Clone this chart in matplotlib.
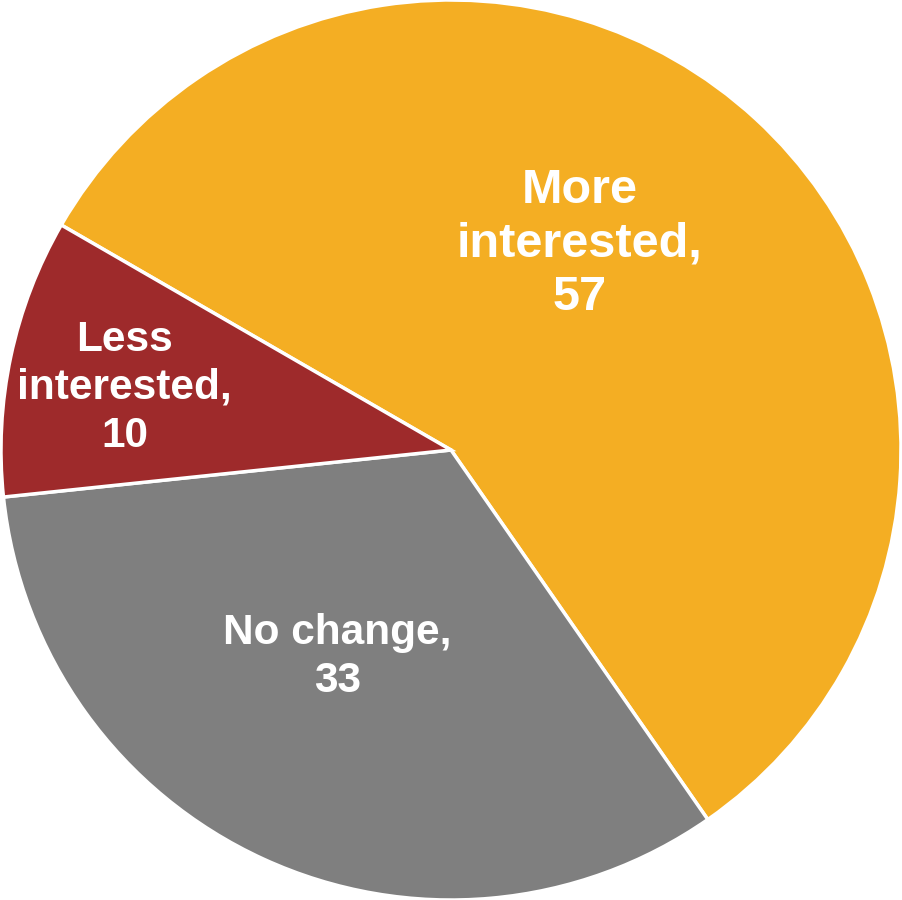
"""
Pie chart: change in interest (More / No change / Less).
"""

import numpy as np
import matplotlib
matplotlib.use("Agg")
import matplotlib.pyplot as plt

# ---------------------------------------------------------------------------
# DATA
# ---------------------------------------------------------------------------
categories = ["More\ninterested,", "No change,", "Less\ninterested,"]
values = [57, 33, 10]
colors = ["#F4AE23", "#7F7F7F", "#9E2A2B"]

# label placement: fraction of radius and angle (degrees, ccw from +x)
label_radius = [0.54, 0.525, 0.738]
label_angle = [58.0, -118.8, 169.2]
label_size = [35, 30.5, 30.5]

plt.rcParams["font.family"] = ["Liberation Sans", "DejaVu Sans"]

fig = plt.figure(figsize=(9.02, 9.0), dpi=100)
ax = fig.add_axes([0, 0, 1, 1])

ax.pie(values, colors=colors, startangle=150, counterclock=False,
       radius=1.0, center=(0, 0),
       wedgeprops=dict(edgecolor="white", linewidth=2.5))

for name, v, r, a, fs in zip(categories, values, label_radius, label_angle,
                             label_size):
    t = np.deg2rad(a)
    ax.text(r * np.cos(t), r * np.sin(t), f"{name}\n{v}",
            ha="center", va="center", color="white", fontsize=fs,
            fontweight="bold", linespacing=1.25)

ax.set_xlim(-451 / 450, 451 / 450)
ax.set_ylim(-1.0, 1.0)
ax.axis("off")

fig.savefig("out.png", dpi=100)
